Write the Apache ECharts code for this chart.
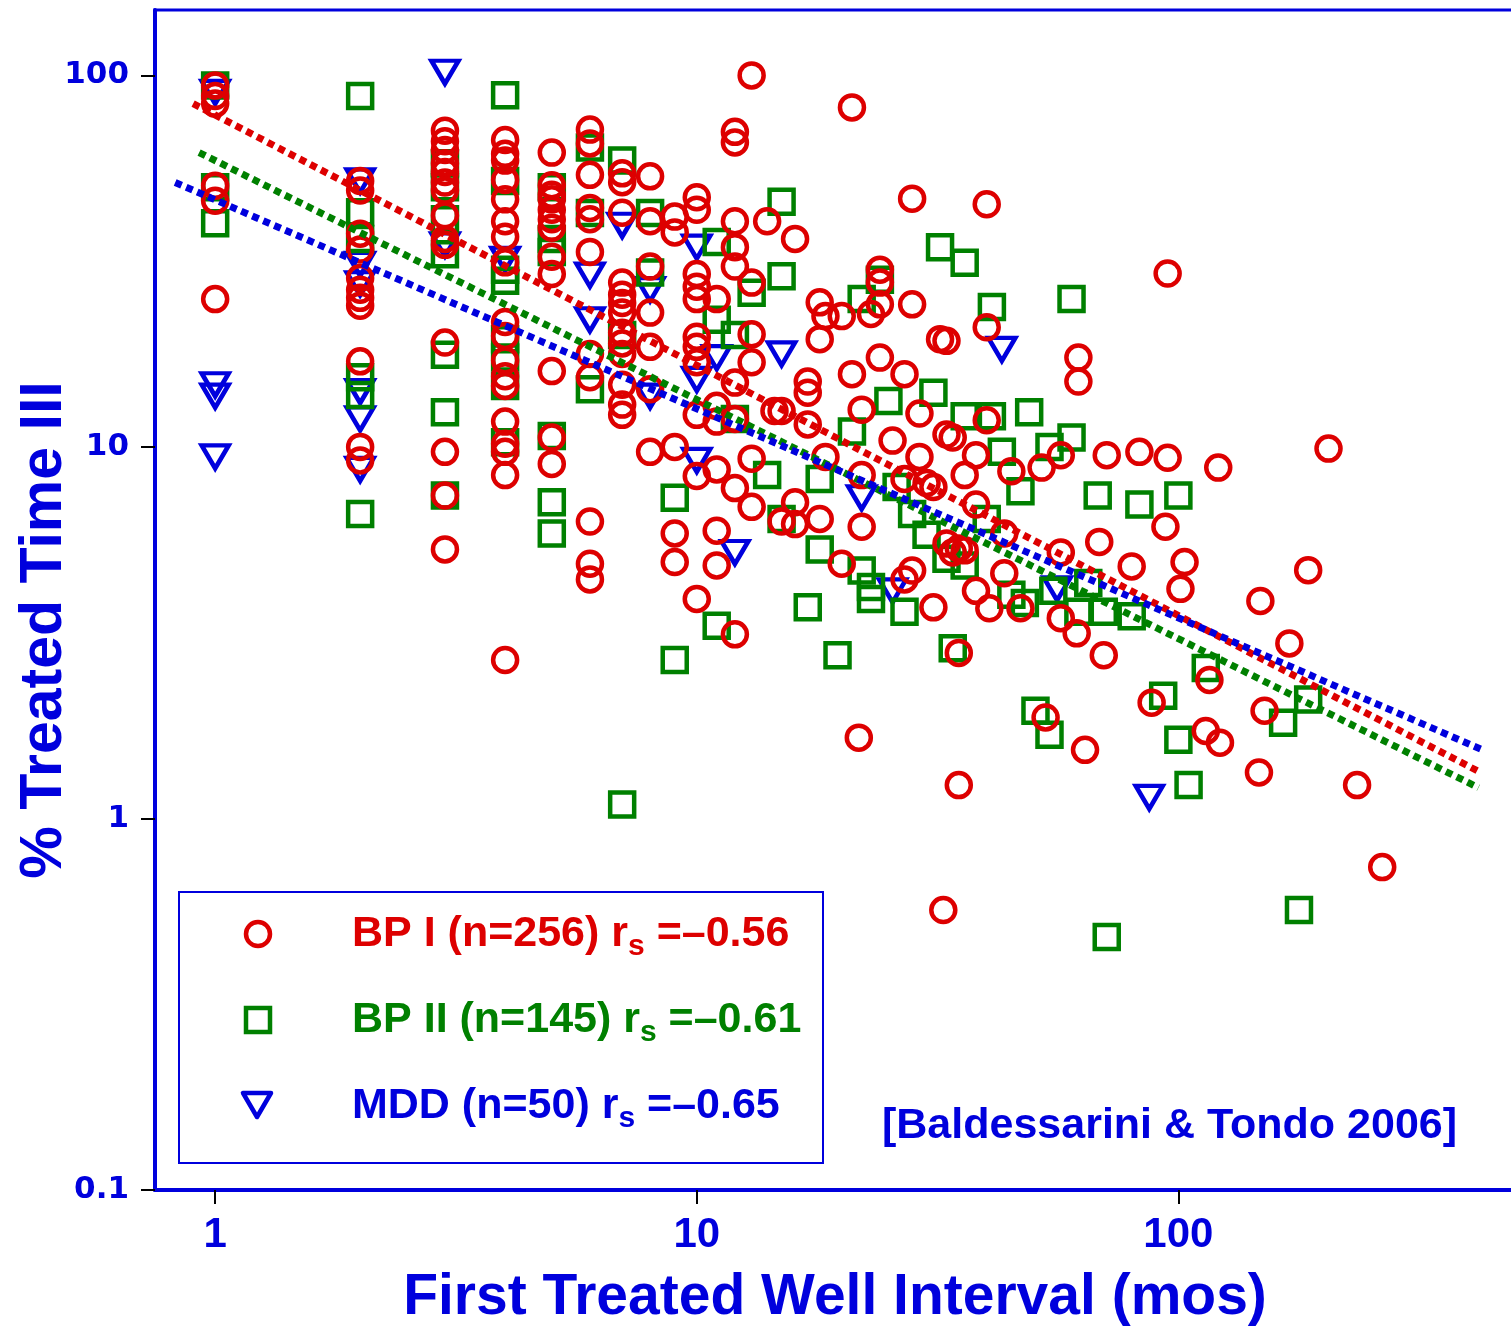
<!DOCTYPE html>
<html><head><meta charset="utf-8">
<script src="https://cdn.jsdelivr.net/npm/echarts@6/dist/echarts.min.js"></script>
<style>html,body{margin:0;padding:0;background:#fff}#c{width:1511px;height:1327px}</style>
</head><body><div id="c"></div>
<script>
// BP I: [first treated well interval (months), % treated time ill]
const bp1Points = [
[1,94],[1,88],[1,84],[1,50.5],[1,46],[1,25],
[2,52],[2,49],[2,37.5],[2,34],[2,28.5],[2,26.5],[2,25.2],[2,24],[2,17],[2,10],[2,9.2],
[3,71],[3,66.5],[3,63],[3,58],[3,55],[3,51.5],[3,49],[3,42],[3,36.3],[3,35],[3,19.1],[3,9.7],[3,7.4],[3,5.3],
[4,67],[4,61.5],[4,59],[4,52.3],[4,46.4],[4,40.5],[4,36.8],[4,31.4],[4,21.7],[4,19.9],[4,17.1],[4,15.5],[4,14.6],[4,11.7],[4,10.2],[4,9.7],[4,8.4],[4,2.67],
[5,62],[5,50.6],[5,47.7],[5,46.4],[5,43.5],[5,41],[5,38.9],[5,32.5],[5,29.2],[5,16],[5,10.6],[5,9],
[6,71.5],[6,65.6],[6,54],[6,44],[6,41],[6,33.5],[6,17.8],[6,15.4],[6,6.3],[6,4.85],[6,4.4],
[7,54.5],[7,51.6],[7,42.7],[7,27.7],[7,25.7],[7,24.4],[7,23],[7,20.3],[7,19],[7,17.8],[7,14.7],[7,13],[7,12.2],
[8,53.5],[8,40.5],[8,30.6],[8,23],[8,18.6],[8,14.3],[8,9.7],
[9,41.7],[9,37.8],[9,10],[9,5.85],[9,4.9],
[10,47],[10,43.5],[10,29.2],[10,27],[10,25],[10,19.8],[10,18.6],[10,16.9],[10,12.2],[10,8.35],[10,3.9],
[11,25],[11,12.9],[11,11.7],[11,8.7],[11,5.95],[11,4.8],
[12,70.5],[12,66],[12,40.5],[12,34.5],[12,30.6],[12,14.9],[12,11.9],[12,7.75],[12,3.13],
[13,100],[13,27.7],[13,20.1],[13,16.9],[13,9.3],[13,6.9],
[14,40.5],[14.5,12.5],[15,12.5],[15,6.3],
[16,36.3],[16,7.1],[16,6.2],
[17,15],[17,14],[17,11.5],
[18,24.5],[18,19.5],[18,6.4],[18.5,22.5],[18.5,9.4],
[20,22.5],[20,4.85],
[21,82],[21,15.7],[21.7,1.65],
[22,12.6],[22,8.4],[22,6.1],[23,22.8],
[24,30],[24,27.7],[24,24.2],[24,17.4],[25.5,10.4],
[27,15.7],[27,8.2],[27,4.4],
[28,46.6],[28,24.2],[28,4.65],
[29,12.3],[29,9.4],[30,8.0],[31,7.8],[31,3.7],
[32,19.5],[32.5,0.567],[33,19.3],[33,10.8],[33,5.5],[34,10.6],[34,5.2],
[35,5.33],[35,2.79],[35,1.23],[36,5.27],[36,8.4],
[38,9.5],[38,7],[38,4.1],
[40,45],[40,21],[40,11.8],[40.5,3.68],
[43.5,5.85],[43.5,4.57],[45,8.6],[47,3.68],
[52,8.8],[53,1.87],[57,9.5],[57,5.2],[57,3.46],
[61.5,3.15],[62,17.4],[62,15],[64,1.53],
[68.5,5.55],[70,2.75],[71,9.5],
[80,4.77],[83,9.7],[88,2.05],
[94,6.1],[95,29.3],[95,9.35],[101,4.15],[103,4.9],
[114,1.72],[116,2.36],[121,8.8],[122,1.6],
[147,1.33],[148,3.85],[151,1.95],[170,2.96],[186,4.66],[205,9.9],[235,1.23],[265,0.74]
];
// BP II
const bp2Points = [
[1,94],[1,50],[1,40],
[2,88],[2,42.8],[2,36.3],[2,15.4],[2,13.8],[2,6.6],
[3,58],[3,50],[3,41],[3,33],[3,17.7],[3,12.4],[3,7.4],
[4,88.5],[4,52],[4,30],[4,28],[4,19.5],[4,17.4],[4,14.6],[4,10.3],
[5,50],[5,36.3],[5,33.5],[5,10.7],[5,7.1],[5,5.85],
[6,64],[6,42.6],[6,14.3],
[7,59],[7,20],[7,1.09],
[8,42.6],[8,29.5],
[9,7.3],[9,2.67],
[11,35.6],[11,22],[11,3.3],
[12,20],[12,11.9],[13,26],[14,8.4],
[15,45.7],[15,28.8],[15,6.4],
[17,3.7],[18,5.3],[18,8.2],[19.6,2.75],
[21,11],[22,25],[22,4.65],[23,4.2],[23,3.9],
[24,28.2],[25,13.3],[26,7.8],[27,3.6],[28,6.6],[30,5.8],
[31,14],[32,34.5],[33,5.0],[34,2.87],
[36,31.3],[36,12.1],[36,4.8],[40,6.4],
[41,23.8],[41,12.1],[43,9.7],[45,4.0],[47,7.6],[48,3.8],[49,12.4],
[50.5,1.95],[54,10],[54,1.68],[55,4.1],
[60,25],[60,10.6],[62,3.6],[65,4.3],[68,7.4],[70,3.6],[71,0.48],
[80,3.5],[83,7],[93,2.14],[100,7.4],[100,1.63],[105,1.23],
[114,2.54],[165,1.81],[178,0.567],[186,2.09]
];
// MDD
const mddPoints = [
[1,90],[1,14.7],[1,13.7],[1,9.4],
[2,52],[2,31],[2,27.5],[2,14.1],[2,11.9],[2,8.7],
[3,102],[3,35],[4,32],
[6,29],[6,22],[7,39.5],
[8,26.5],[8,13.7],
[10,34.5],[10,15.2],[10,9.2],
[11,17.4],[12,5.2],[15,17.8],
[22,7.3],[25.5,4.1],[43,18.3],[56,4.15],[87,1.14]
];
// regression (log-log) fit line end points
const bp1Fit = [[0.9,84],[424,1.33]];
const bp2Fit = [[0.926,62],[420,1.21]];
const mddFit = [[0.826,51.5],[428,1.53]];

const xTicks = [1, 10, 100];
const yTicks = [0.1, 1, 10, 100];
const legendLabels = [
  ['BP I (n=256) r', 's', ' =\u20130.56'],
  ['BP II (n=145) r', 's', ' =\u20130.61'],
  ['MDD (n=50) r', 's', ' =\u20130.65']
];
const sourceNote = '[Baldessarini & Tondo 2006]';

const RED = '#dd0000', GREEN = '#008000', BLUE = '#0000dd';
const NARROW = "'Liberation Sans Narrow','Arial Narrow','Liberation Sans',sans-serif";
const SANS = "'Liberation Sans',Arial,sans-serif";
const WIDE = "'DejaVu Sans',sans-serif";

const chart = echarts.init(document.getElementById('c'), null, {renderer: 'canvas'});

function scatter(name, data, symbol, size, color, extra) {
  return Object.assign({
    name, type: 'scatter', data, symbol, symbolSize: size,
    itemStyle: {color: 'rgba(0,0,0,0)', borderColor: color, borderWidth: 4.5, opacity: 1},
    emphasis: {disabled: true}, silent: true
  }, extra || {});
}
function fit(name, data, color) {
  return {
    name, type: 'line', data, showSymbol: false, symbol: 'none', silent: true,
    lineStyle: {color, width: 7, type: [7, 5], opacity: 1}, z: 5
  };
}
function legendText(parts, color) {
  return {
    text: '{m|' + parts[0] + '}{s|' + parts[1] + '}{m|' + parts[2] + '}',
    rich: {
      m: {fontSize: 43, fontWeight: 'bold', fontFamily: SANS, fill: color, lineHeight: 52},
      s: {fontSize: 30, fontWeight: 'bold', fontFamily: SANS, fill: color, lineHeight: 52, padding: [26, 0, 0, 0]}
    },
    verticalAlign: 'middle'
  };
}

const option = {
  animation: false,
  backgroundColor: '#fff',
  grid: {left: 155, top: 10, width: 1360, height: 1180, show: true, borderColor: BLUE, borderWidth: 3,
    containLabel: false, outerBoundsMode: 'none'},
  xAxis: {
    type: 'log', logBase: 10, min: 0.75, max: 500,
    axisLine: {show: true, onZero: false, lineStyle: {color: BLUE, width: 4}},
    axisTick: {show: true, customValues: xTicks, length: 14, lineStyle: {color: '#000', width: 2}},
    axisLabel: {customValues: xTicks, margin: 24, color: BLUE, fontFamily: NARROW, fontWeight: 'bold', fontSize: 42,
      formatter: v => String(v)},
    splitLine: {show: false}, minorTick: {show: false}, minorSplitLine: {show: false},
    name: 'First Treated Well Interval (mos)', nameLocation: 'middle', nameGap: 80,
    nameTextStyle: {color: BLUE, fontFamily: NARROW, fontWeight: 'bold', fontSize: 57}
  },
  yAxis: {
    type: 'log', logBase: 10, min: 0.1, max: 150,
    axisLine: {show: true, onZero: false, lineStyle: {color: BLUE, width: 4}},
    axisTick: {show: true, customValues: yTicks, length: 14, lineStyle: {color: '#000', width: 2}},
    axisLabel: {customValues: yTicks, margin: 26, color: BLUE, fontFamily: WIDE, fontWeight: 'bold', fontSize: 31,
      formatter: v => String(v)},
    splitLine: {show: false}, minorTick: {show: false}, minorSplitLine: {show: false},
    name: '% Treated Time III', nameLocation: 'middle', nameGap: 81, nameMoveOverlap: false,
    nameTextStyle: {color: BLUE, fontFamily: NARROW, fontWeight: 'bold', fontSize: 59, padding: [0, 60, 0, 0]}
  },
  series: [
    scatter('MDD', mddPoints, 'triangle', [27, 23], BLUE, {symbolRotate: 180}),
    scatter('BP II', bp2Points, 'rect', 24, GREEN),
    scatter('BP I', bp1Points, 'circle', 24, RED),
    fit('BP II fit', bp2Fit, GREEN),
    fit('BP I fit', bp1Fit, RED),
    fit('MDD fit', mddFit, BLUE)
  ],
  graphic: [
    {type: 'rect', z: 10, shape: {x: 179, y: 892, width: 644, height: 271}, style: {fill: '#fff', stroke: BLUE, lineWidth: 2}},
    {type: 'circle', z: 11, shape: {cx: 258, cy: 934, r: 12}, style: {fill: null, stroke: RED, lineWidth: 4.5}},
    {type: 'rect', z: 11, shape: {x: 246, y: 1008, width: 24, height: 24}, style: {fill: null, stroke: GREEN, lineWidth: 4.5}},
    {type: 'polygon', z: 11, shape: {points: [[243, 1093], [271, 1093], [257, 1117]]}, style: {fill: null, stroke: BLUE, lineWidth: 4.5, lineJoin: 'round'}},
    {type: 'text', z: 11, x: 352, y: 934, style: legendText(legendLabels[0], RED)},
    {type: 'text', z: 11, x: 352, y: 1020, style: legendText(legendLabels[1], GREEN)},
    {type: 'text', z: 11, x: 352, y: 1106, style: legendText(legendLabels[2], BLUE)},
    {type: 'text', z: 11, x: 882, y: 1126, style: {text: sourceNote, fontSize: 43, fontWeight: 'bold', fontFamily: SANS, fill: BLUE, verticalAlign: 'middle'}}
  ]
};
chart.setOption(option);
</script>
</body></html>
